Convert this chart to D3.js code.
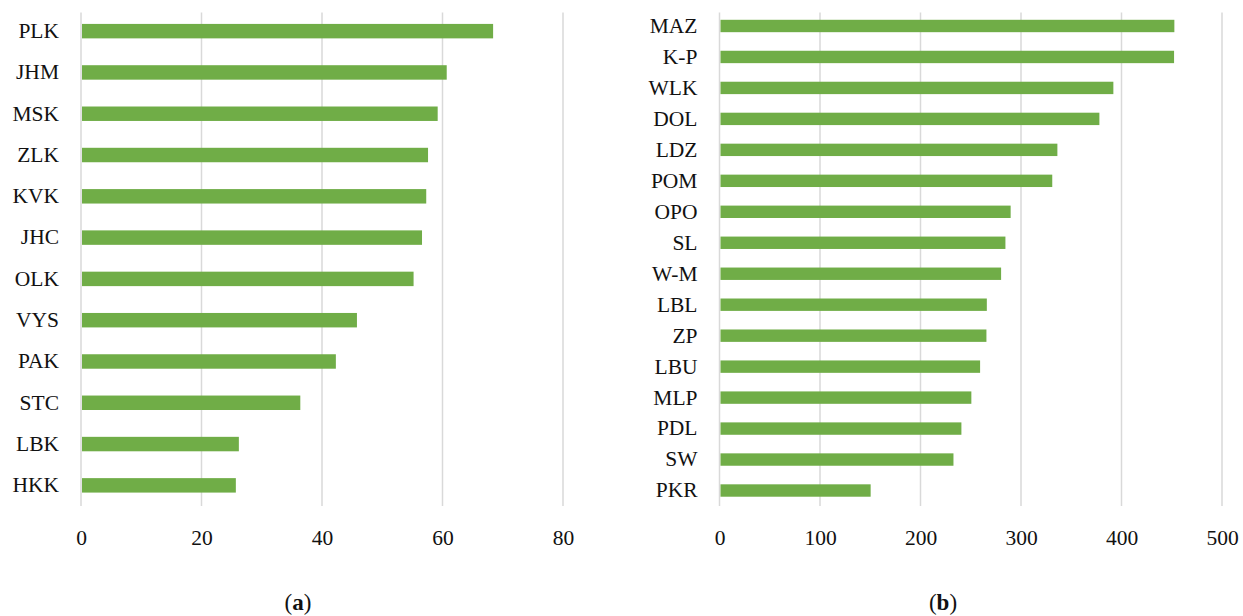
<!DOCTYPE html>
<html>
<head>
<meta charset="utf-8">
<script src="https://cdn.jsdelivr.net/npm/d3@7"></script>
<style>
  body { margin: 0; background: #fff; }
  svg text { font-family: "Liberation Serif", "DejaVu Serif", serif !important; fill: #111; }
  .domain { display: none; }
</style>
</head>
<body>
<svg id="chart"></svg>
<script>
const regionsA = ["PLK", "JHM", "MSK", "ZLK", "KVK", "JHC", "OLK", "VYS", "PAK", "STC", "LBK", "HKK"];
const valuesA = [68.4, 60.7, 59.2, 57.6, 57.3, 56.6, 55.2, 45.8, 42.3, 36.4, 26.2, 25.7];
const ticksA = [0, 20, 40, 60, 80];

const regionsB = ["MAZ", "K-P", "WLK", "DOL", "LDZ", "POM", "OPO", "SL", "W-M", "LBL", "ZP", "LBU", "MLP", "PDL", "SW", "PKR"];
const valuesB = [452.6, 452.3, 391.9, 378, 336.2, 331.1, 289.7, 284.5, 280.2, 266, 265.6, 259.3, 250.6, 240.7, 232.8, 150.4];
const ticksB = [0, 100, 200, 300, 400, 500];

const chartSize = { width: 1243, height: 616 };
const barColor = "#70ad47";
const gridColor = "#d9d9d9";
const serif = '"Liberation Serif", "DejaVu Serif", serif';

const svg = d3.select("#chart")
  .attr("width", chartSize.width)
  .attr("height", chartSize.height);

const drawPanel = (opts) => {
  const { names, values, ticks, left, right, top, bottom, padding, caption, captionX } = opts;

  const x = d3.scaleLinear()
    .domain([ticks[0], ticks[ticks.length - 1]])
    .range([left, right]);

  const y = d3.scaleBand()
    .domain(names)
    .range([top, bottom])
    .paddingInner(padding)
    .paddingOuter(padding / 2);

  const g = svg.append("g");

  // vertical gridlines
  g.selectAll(".grid")
    .data(ticks)
    .enter()
    .append("line")
    .attr("x1", d => x(d))
    .attr("x2", d => x(d))
    .attr("y1", top + 2)
    .attr("y2", bottom)
    .attr("stroke", gridColor)
    .attr("stroke-width", 1.5);

  g.selectAll("rect")
    .data(names)
    .enter()
    .append("rect")
    .attr("x", x(0) + 1)
    .attr("y", d => y(d))
    .attr("width", (d, i) => x(values[i]) - x(0) - 1)
    .attr("height", y.bandwidth())
    .attr("fill", barColor);

  const yAxis = d3.axisLeft(y).tickSize(0).tickPadding(22);
  g.append("g")
    .attr("transform", `translate(${left},0)`)
    .call(yAxis)
    .attr("font-family", serif)
    .selectAll("text")
    .style("font-family", serif)
    .style("font-size", "21.5px")
    .attr("fill", "#111");

  const xAxis = d3.axisBottom(x).tickValues(ticks).tickSize(0).tickPadding(0);
  g.append("g")
    .attr("transform", `translate(0,${bottom + 24})`)
    .call(xAxis)
    .attr("font-family", serif)
    .selectAll("text")
    .attr("dy", "0.7em")
    .style("font-family", serif)
    .style("font-size", "21.5px")
    .attr("fill", "#111");

  g.selectAll(".tick line").remove();

  const cap = g.append("text")
    .attr("x", captionX)
    .attr("y", 610)
    .attr("text-anchor", "middle")
    .style("font-family", serif)
    .style("font-size", "23px");
  cap.append("tspan").text("(");
  cap.append("tspan").style("font-weight", "bold").text(caption);
  cap.append("tspan").text(")");
};

drawPanel({
  names: regionsA, values: valuesA, ticks: ticksA,
  left: 81, right: 563, top: 10.5, bottom: 506,
  padding: 0.65, caption: "a", captionX: 298
});

drawPanel({
  names: regionsB, values: valuesB, ticks: ticksB,
  left: 719.5, right: 1222, top: 10.5, bottom: 506,
  padding: 0.6, caption: "b", captionX: 943
});
</script>
</body>
</html>
